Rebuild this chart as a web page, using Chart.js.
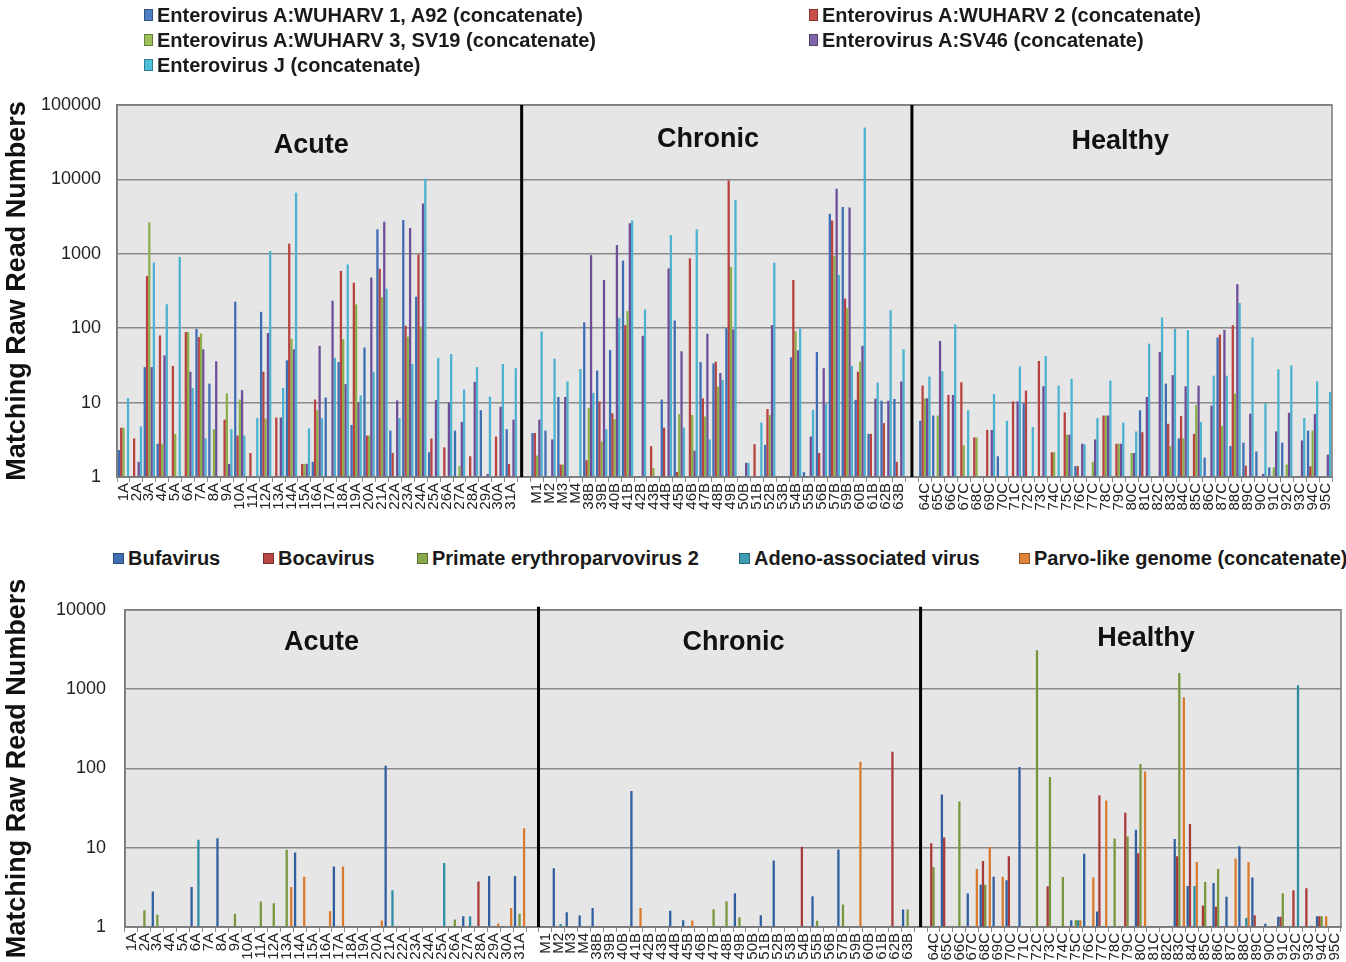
<!DOCTYPE html>
<html>
<head>
<meta charset="utf-8">
<script src="https://cdn.jsdelivr.net/npm/chart.js@4.4.1/dist/chart.umd.min.js"></script>
<style>
  html, body { margin: 0; padding: 0; background: #fff; width: 1346px; height: 962px; overflow: hidden;
    font-family: "Liberation Sans", Arial, Helvetica, sans-serif; }
  canvas { position: absolute; left: 0; }
  .legend { position: absolute; left: 0; top: 0; width: 1346px; height: 0; z-index: 2; }
  .item { position: absolute; font-weight: bold; font-size: 20px; line-height: 20px; color: #1a1a1a; white-space: nowrap; }
  .item i { position: absolute; top: 4px; border: 1px solid rgba(0,0,0,0.35); box-sizing: border-box; }
</style>
</head>
<body>
<canvas id="enteroChart" width="1346" height="520" style="top:0"></canvas>
<canvas id="parvoChart" width="1346" height="400" style="top:580px"></canvas>
<div id="enteroLegend" class="legend"></div>
<div id="parvoLegend" class="legend"></div>

<script>
const _ = null;

// ---- sample groups (x-axis categories) ----
const acuteSamples = ['1A','2A','3A','4A','5A','6A','7A','8A','9A','10A','11A','12A','13A','14A','15A','16A',
  '17A','18A','19A','20A','21A','22A','23A','24A','25A','26A','27A','28A','29A','30A','31A'];
const chronicSamples = ['M1','M2','M3','M4','38B','39B','40B','41B','42B','43B','44B','45B','46B','47B','48B',
  '49B','50B','51B','52B','53B','54B','55B','56B','57B','59B','60B','61B','62B','63B'];
const healthySamples = ['64C','65C','66C','67C','68C','69C','70C','71C','72C','73C','74C','75C','76C','77C',
  '78C','79C','80C','81C','82C','83C','84C','85C','86C','87C','88C','89C','90C','91C','92C','93C','94C','95C'];
const groupNames = ['Acute', 'Chronic', 'Healthy'];

const yTicksEntero = [1, 10, 100, 1000, 10000, 100000];
const yTicksParvo = [1, 10, 100, 1000, 10000];

// ---- enterovirus read counts (acute | chronic | healthy) ----
const wuharv1A92 = [
  2.3,_,30,2.8,_,_,98,18,_,227, _,166,_,37,_,1.6,11.7,35,5.0,55, 2130,4.2,2840,265,2.15,_,4.2,_,7.9,_, 4.4,
  3.9,4.2,11.9,_, 120,27,51,810,_,_,11,127,_,35,33.6,100,_,_,2.7,_,40.5,1.16,48,3450, 4240,10.9,3.8,10.6,11.2,
  5.7,6.7,_,_,_,_,1.9,_,9.8,_, _,_,1.4,_,_,_,_,7.9,_,18, 3.3,_,1.82,75,2.6,2.9,2.2,1.35,2.9,_, 4.2,_
];
const wuharv2 = [
  4.6,3.3,505,80,31,89,76,_,5.9,3.6, 2.1,26,6.3,1370,1.5,11,_,590,408,3.6, 630,2.1,108,980,3.3,2.5,_,1.9,_,3.5, 1.5,
  3.9,_,1.47,_, 1.68,10.4,7.2,110,_,2.6,4.6,1.17,870,11.4,35.4,9700,_,2.76,8.2,_,445,_,2.1,2800, 250,26,3.8,5.3,1.6,
  17,_,12.7,18.8,3.4,4.3,_,10.4,14.5,36.3, 2.15,7.4,1.4,_,6.7,2.8,_,4.0,_,5.2, 6.6,3.8,_,82,110,1.42,_,_,_,1.03, 1.39,_
];
const wuharv3SV19 = [
  4.6,_,2650,2.8,3.8,89,85,4.4,13.3,11, _,6.1,_,72,1.5,7.9,_,71,209,3.6, 260,_,77,105,_,_,1.4,_,_,_, _,
  1.94,_,1.47,_, 8.5,3.0,6.0,170,_,1.32,_,7.0,6.8,6.5,16.4,665,_,_,6.8,_,91,_,_,940, 186,35.5,_,_,_,
  11.4,6.7,_,2.67,3.4,_,_,_,_,_, 2.15,3.7,_,1.6,6.7,2.8,2.1,_,_,2.6, 3.3,9.3,_,4.85,13.2,_,_,1.35,1.47,_, 4.2,_
];
const sv46 = [
  _,1.6,30,43,_,26,52,36,1.5,14.7, _,86,6.3,52,1.5,58,234,17.7,10,480, 2700,10.7,2230,4750,10.8,10,5.5,19,1.1,8.8, 5.9,
  5.9,3.2,11.9,_, 960,445,1310,2570,79,_,635,49,2.25,84,25,96,1.55,_,110,_,50.5,3.5,29,7500, 4200,58,11.3,10.6,19.2,
  11.4,67.5,12.7,_,_,4.3,_,10.4,_,16.6, _,3.7,2.8,3.2,6.7,2.8,2.1,11.9,48,23.4, 16.6,16.9,9.1,95,390,7.1,1.1,4.1,7.3,3.1, 7.0,2.0
];
const enterovirusJ = [
  11.5,4.8,765,210,910,15.7,3.3,_,4.4,3.6, 6.2,1090,15.7,6600,4.5,6.2,40,720,12.5,26, 340,6.2,33,10200,40,45,15,30,12,33, 29,
  90,39,19.2,28.2, 13.5,4.4,138,2800,178,_,1780,4.6,2140,3.2,20.2,5300,1.55,5.4,760,_,99,8.0,9.6,520, 31,50000,18.6,174,52,
  22.4,26.4,113,7.9,_,13.0,5.7,30.6,4.7,42.4, 16.9,20.9,2.75,6.2,19.8,5.4,4.1,62,139,98, 94,5.5,23,23,218,75,9.8,28,31.6,6.2, 19.4,13.9
];

// ---- parvovirus read counts (acute | chronic | healthy) ----
const bufavirus = [
  _,_,2.8,_,_,3.2,_,13.2,_,_, _,_,_,8.7,_,_,5.8,_,_,_, 108,_,_,_,_,_,1.37,_,4.4,_, 4.4,
  _,5.5,1.54,1.4, 1.73,_,_,51.7,_,_,1.6,1.22,_,_,_,2.66,_,1.41,6.9,_,_,2.44,_,9.5, _,_,_,_,1.66,
  _,46.8,_,2.64,3.4,4.3,3.9,104,_,_, _,1.22,8.4,1.57,_,_,16.9,_,_,12.9, 3.3,_,3.6,2.4,10.4,4.2,1.1,1.35,_,_, 1.37,_
];
const bocavirus = [
  _,_,_,_,_,_,_,_,_,_, _,_,_,_,_,_,_,_,_,_, _,_,_,_,_,_,_,3.76,_,_, _,
  _,_,_,_, _,_,_,_,_,_,_,_,_,_,_,_,_,_,_,_,10.3,_,_,_, _,_,_,162,_,
  11.4,13.4,_,_,6.8,_,7.8,_,_,3.27, _,_,_,45.8,_,27.6,8.5,_,_,7.8, 19.9,1.87,1.8,_,_,1.41,_,1.35,2.9,3.08, 1.37,_
];
const erythroparvo2 = [
  _,1.63,1.43,_,_,_,_,_,1.47,_, 2.1,2.0,9.4,_,_,_,_,_,_,_, _,_,_,_,_,1.24,_,_,_,_, 1.47,
  _,_,_,_, _,_,_,_,_,_,_,_,_,1.68,2.1,1.33,_,_,_,_,_,1.2,_,1.92, _,_,_,_,1.66,
  5.7,_,38.2,_,3.4,_,_,_,3080,78, 4.27,1.22,_,_,13.1,13.8,114,_,_,1600, _,3.7,5.4,_,_,_,_,2.67,_,_, 1.37,_
];
const adenoAssociated = [
  _,_,_,_,_,12.6,_,_,_,_, _,_,_,_,_,_,_,_,_,_, 2.9,_,_,_,6.4,_,1.37,_,_,_, _,
  _,1.09,_,_, _,_,_,_,_,_,_,_,_,_,_,_,_,_,_,_,_,_,_,_, _,_,_,_,_,
  _,_,_,_,_,_,_,_,_,_, _,1.22,_,_,_,_,_,_,_,_, 3.3,_,_,_,1.3,_,_,_,1120,1.04, _,_
];
const parvoLike = [
  _,_,_,_,_,_,_,_,_,_, _,_,3.2,4.3,_,1.58,5.8,_,_,1.21, _,_,_,_,_,_,_,_,1.11,1.74, 17.6,
  _,_,_,_, _,_,_,1.73,_,_,_,1.21,_,_,_,_,_,_,_,_,_,_,_,_, 121,_,_,_,_,
  _,_,_,5.4,10.1,4.3,_,_,_,_, _,1.22,4.2,39.4,_,_,91.7,_,_,790, 6.6,_,_,7.3,6.6,_,_,_,_,_, 1.37,_
];

// ---- helpers ----
const FONT = '"Liberation Sans", Arial, Helvetica, sans-serif';
const groups = [acuteSamples, chronicSamples, healthySamples];

// one empty slot separates neighbouring groups on the axis
function spaced(values, filler) {
  const out = [];
  let k = 0;
  groups.forEach((g, gi) => {
    if (gi > 0) out.push(filler);
    for (let j = 0; j < g.length; j++) out.push(values[k++]);
  });
  return out;
}
const axisLabels = spaced([...acuteSamples, ...chronicSamples, ...healthySamples], '');

function groupRanges() {
  const r = []; let start = 0;
  groups.forEach((g) => { r.push([start, start + g.length - 1]); start += g.length + 1; });
  return r;
}

const panelPlugin = {
  id: 'panel',
  beforeDraw(chart) {
    const a = chart.chartArea, ctx = chart.ctx;
    ctx.save();
    ctx.fillStyle = '#e6e6e6';
    ctx.fillRect(a.left, a.top, a.right - a.left, a.bottom - a.top);
    ctx.restore();
  },
  afterDatasetsDraw(chart) {
    const o = chart.options.plugins.panel;
    const a = chart.chartArea, ctx = chart.ctx, x = chart.scales.x;
    ctx.save();
    ctx.strokeStyle = '#7a7a7a';
    ctx.lineWidth = 1.5;
    ctx.strokeRect(a.left, a.top, a.right - a.left, a.bottom - a.top);
    // group dividers
    const ranges = groupRanges();
    ctx.strokeStyle = '#000';
    ctx.lineWidth = 3;
    for (let i = 1; i < ranges.length; i++) {
      const gap = ranges[i][0] - 1;
      const px = x.getPixelForValue(gap) + o.dividerShift[i - 1];
      ctx.beginPath(); ctx.moveTo(px, a.top - o.dividerRise); ctx.lineTo(px, a.bottom); ctx.stroke();
    }
    // group names
    ctx.fillStyle = '#111';
    ctx.font = 'bold 27px ' + FONT;
    ctx.textAlign = 'center';
    ctx.textBaseline = 'middle';
    ranges.forEach((rg, i) => {
      const cx = (x.getPixelForValue(rg[0]) + x.getPixelForValue(rg[1])) / 2 + o.nameDx[i];
      ctx.fillText(groupNames[i], cx, a.top + o.nameDy[i]);
    });
    ctx.restore();
  }
};

function makeChart(id, series, yTicks, geom) {
  return new Chart(document.getElementById(id), {
    type: 'bar',
    data: {
      labels: axisLabels,
      datasets: series.map(s => ({
        label: s.label, data: spaced(s.data, null), backgroundColor: s.color,
        borderWidth: 0, categoryPercentage: 0.88, barPercentage: 1.0
      }))
    },
    options: {
      responsive: false, animation: false, devicePixelRatio: 1,
      layout: { padding: { top: geom.padTop, right: geom.padRight, left: 0, bottom: 0 } },
      plugins: {
        legend: { display: false }, tooltip: { enabled: false },
        panel: { dividerShift: geom.dividerShift, dividerRise: geom.dividerRise, nameDx: geom.nameDx, nameDy: geom.nameDy }
      },
      scales: {
        x: {
          grid: { display: true, drawOnChartArea: false, drawTicks: true, tickLength: 5, color: '#8a8a8a', lineWidth: 1 },
          border: { display: true, color: '#7a7a7a', width: 1.5 },
          ticks: { autoSkip: false, maxRotation: 90, minRotation: 90, padding: 1,
            font: { family: FONT, size: 15 }, color: '#222' },
          afterFit(s) { s.height = geom.xHeight; s.paddingLeft = 0; s.paddingRight = 0; }
        },
        y: {
          type: 'logarithmic', min: yTicks[0], max: yTicks[yTicks.length - 1],
          afterBuildTicks(s) { s.ticks = yTicks.map(v => ({ value: v })); },
          grid: { color: '#8a8a8a', lineWidth: 1.5, drawTicks: false },
          border: { display: true, color: '#7a7a7a', width: 1.5 },
          ticks: { padding: geom.yPad, font: { family: FONT, size: 18 }, color: '#222',
            callback: v => String(v) },
          title: { display: true, text: 'Matching Raw Read Numbers', color: '#111',
            font: { family: FONT, size: 27, weight: 'bold' }, padding: { top: 1, bottom: 0 } },
          afterFit(s) { s.width = geom.yWidth; }
        }
      }
    },
    plugins: [panelPlugin]
  });
}

const enteroSeries = [
  { label: 'Enterovirus A:WUHARV 1, A92 (concatenate)', data: wuharv1A92, color: '#3e6db3' },
  { label: 'Enterovirus A:WUHARV 2 (concatenate)', data: wuharv2, color: '#b8423f' },
  { label: 'Enterovirus A:WUHARV 3, SV19 (concatenate)', data: wuharv3SV19, color: '#8ab04b' },
  { label: 'Enterovirus A:SV46 (concatenate)', data: sv46, color: '#6e4e98' },
  { label: 'Enterovirus J (concatenate)', data: enterovirusJ, color: '#4bb2d0' }
];
const parvoSeries = [
  { label: 'Bufavirus', data: bufavirus, color: '#2f5f9e' },
  { label: 'Bocavirus', data: bocavirus, color: '#a83a38' },
  { label: 'Primate erythroparvovirus 2', data: erythroparvo2, color: '#76973d' },
  { label: 'Adeno-associated virus', data: adenoAssociated, color: '#2e8ca5' },
  { label: 'Parvo-like genome (concatenate)', data: parvoLike, color: '#da7a2e' }
];

makeChart('enteroChart', enteroSeries, yTicksEntero, {
  padTop: 105, padRight: 14, yWidth: 117, yPad: 16, xHeight: 43,
  dividerShift: [-2.5, 0], dividerRise: 0, nameDx: [-6, -10, -5], nameDy: [41, 35, 37]
});
makeChart('parvoChart', parvoSeries, yTicksParvo, {
  padTop: 27, padRight: 5, yWidth: 125, yPad: 19, xHeight: 53,
  dividerShift: [6, 0], dividerRise: 3, nameDx: [-4, 7, 12], nameDy: [33, 33, 29]
});

// legends
function buildLegend(el, series, spots, box) {
  series.forEach((s, i) => {
    const d = document.createElement('div');
    d.className = 'item';
    d.style.left = spots[i][0] + 'px';
    d.style.top = (spots[i][1] - 10) + 'px';
    const m = document.createElement('i');
    m.style.background = s.color;
    m.style.width = box[0] + 'px';
    m.style.height = box[1] + 'px';
    m.style.left = -(box[0] + 4) + 'px';
    m.style.top = (10 - box[1] / 2) + 'px';
    d.appendChild(m);
    d.appendChild(document.createTextNode(s.label));
    el.appendChild(d);
  });
}
buildLegend(document.getElementById('enteroLegend'),
  enteroSeries.map((s, i) => ({ label: s.label, color: ['#4f7fc4', '#c9504c', '#9cc156', '#8063a8', '#4fbfdc'][i] })),
  [[157, 15], [822, 15], [157, 40], [822, 40], [157, 65]], [9, 12]);
buildLegend(document.getElementById('parvoLegend'),
  parvoSeries.map((s, i) => ({ label: s.label, color: ['#3f6fb0', '#b84744', '#88aa4c', '#3d9cb4', '#e0843a'][i] })),
  [[128, 558], [278, 558], [432, 558], [754, 558], [1034, 558]], [11, 11]);
</script>
</body>
</html>
